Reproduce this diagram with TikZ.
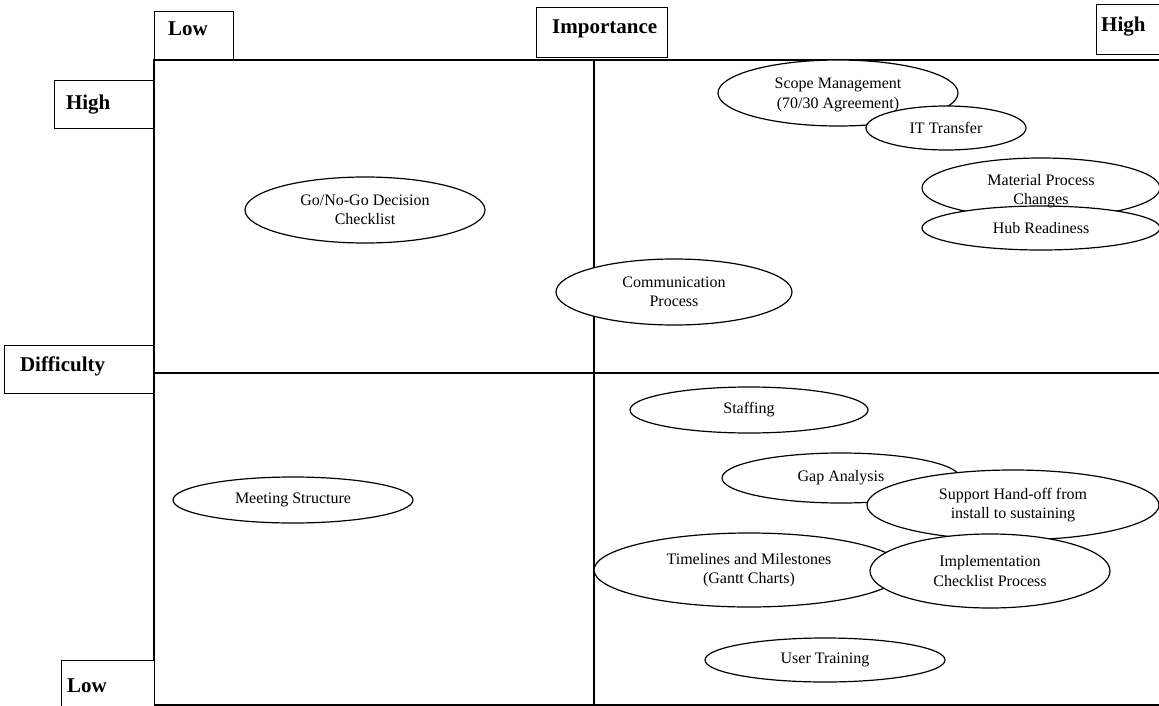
\documentclass[tikz,border=0pt]{standalone}
\usepackage{fontspec}
\setmainfont{Liberation Serif}
\usetikzlibrary{shapes.geometric}
\begin{document}
\begin{tikzpicture}[x=1pt,y=-1pt,
  frame/.style={line width=1.2pt,line cap=rect},
  axisbox/.style={draw,line width=1.2pt,fill=white},
  axistext/.style={anchor=west,inner sep=0pt,font=\fontsize{21}{24}\selectfont\bfseries},
  blob/.style={draw,line width=1.2pt,fill=white,ellipse,inner sep=0pt},
  blobtext/.style={align=center,font=\fontsize{16}{19.5}\selectfont,inner sep=0pt}]
\useasboundingbox (0,0) rectangle (1159,706);
\fill[white] (0,0) rectangle (1159,706);

% quadrant grid
\coordinate (tl) at (154,60);
\coordinate (tr) at (1159,60);
\coordinate (bl) at (154,705);
\coordinate (br) at (1159,705);
\coordinate (mt) at (594,60);
\coordinate (mb) at (594,705);
\coordinate (ml) at (154,373);
\coordinate (mr) at (1159,373);
\draw[frame] (tl) -- (tr);
\draw[frame] (bl) -- (br);
\draw[frame] (tl) -- (bl);
\draw[frame] (mt) -- (mb);
\draw[frame] (ml) -- (mr);

% axis label boxes
\node[axisbox,minimum width=79pt,minimum height=48pt,anchor=south west] (implow) at (154,60) {};
\node[axisbox,minimum width=131pt,minimum height=50pt,anchor=south west] (imp) at (536,58) {};
\node[axisbox,minimum width=66pt,minimum height=50pt,anchor=south west] (imphigh) at (1096,55) {};
\node[axisbox,minimum width=99pt,minimum height=48pt,anchor=north east] (difhigh) at (154,80) {};
\node[axisbox,minimum width=149pt,minimum height=48pt,anchor=north east] (dif) at (154,345) {};
\node[axisbox,minimum width=93pt,minimum height=48pt,anchor=north east] (diflow) at (155,660) {};

% axis label texts
\node[axistext] (implow-t) at ([xshift=14pt,yshift=7pt]implow.west) {Low};
\node[axistext] (imp-t) at ([xshift=16pt,yshift=4pt]imp.west) {Importance};
\node[axistext] (imphigh-t) at ([xshift=5pt,yshift=3pt]imphigh.west) {High};
\node[axistext] (difhigh-t) at ([xshift=12pt]difhigh.west) {High};
\node[axistext] (dif-t) at ([xshift=16pt,yshift=3pt]dif.west) {Difficulty};
\node[axistext] (diflow-t) at ([xshift=6pt,yshift=-1pt]diflow.west) {Low};

% topic ellipses
\node[blob,minimum width=240pt,minimum height=66pt] (scope) at (838,93) {};
\node[blob,minimum width=160pt,minimum height=44pt] (it) at (946,128) {};
\node[blob,minimum width=238pt,minimum height=60pt] (mat) at (1041,188) {};
\node[blob,minimum width=238pt,minimum height=44pt] (hub) at (1041,228) {};
\node[blob,minimum width=240pt,minimum height=66pt] (gonogo) at (365,210) {};
\node[blob,minimum width=236pt,minimum height=66pt] (comm) at (674,292) {};
\node[blob,minimum width=238pt,minimum height=46pt] (staff) at (749,410) {};
\node[blob,minimum width=238pt,minimum height=50pt] (gap) at (841,478) {};
\node[blob,minimum width=292pt,minimum height=70pt] (support) at (1013,505) {};
\node[blob,minimum width=310pt,minimum height=74pt] (time) at (749,570) {};
\node[blob,minimum width=240pt,minimum height=74pt] (impl) at (990,571) {};
\node[blob,minimum width=240pt,minimum height=46pt] (meet) at (293,500) {};
\node[blob,minimum width=240pt,minimum height=44pt] (user) at (825,660) {};

% topic texts
\node[blobtext] (scope-t) at ([yshift=-2pt]scope.center) {Scope Management\\(70/30 Agreement)};
\node[blobtext] (it-t) at (it.center) {IT Transfer};
\node[blobtext] (mat-t) at ([yshift=-3pt]mat.center) {Material Process\\Changes};
\node[blobtext] (hub-t) at (hub.center) {Hub Readiness};
\node[blobtext] (gonogo-t) at (gonogo.center) {Go/No-Go Decision\\Checklist};
\node[blobtext] (comm-t) at (comm.center) {Communication\\Process};
\node[blobtext] (staff-t) at (staff.center) {Staffing};
\node[blobtext] (gap-t) at (gap.center) {Gap Analysis};
\node[blobtext] (support-t) at (support.center) {Support Hand-off from\\install to sustaining};
\node[blobtext] (time-t) at (time.center) {Timelines and Milestones\\(Gantt Charts)};
\node[blobtext] (impl-t) at (impl.center) {Implementation\\Checklist Process};
\node[blobtext] (meet-t) at (meet.center) {Meeting Structure};
\node[blobtext] (user-t) at (user.center) {User Training};
\end{tikzpicture}
\end{document}
